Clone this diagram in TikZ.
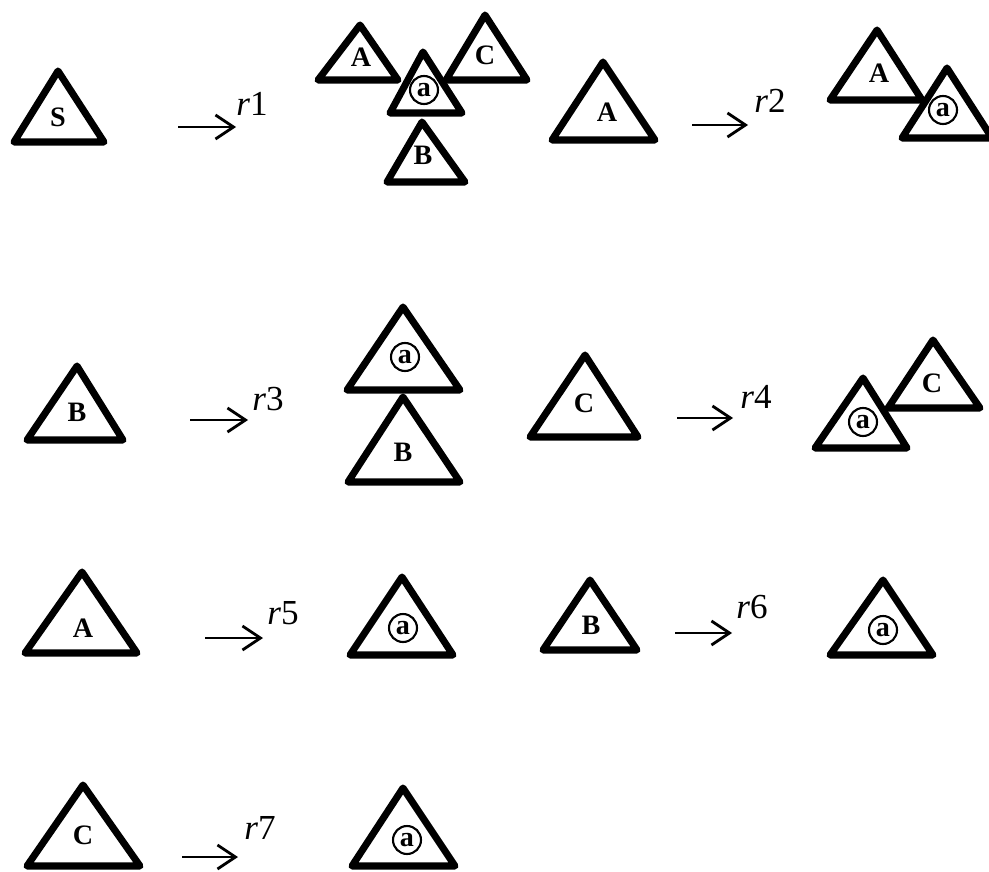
\documentclass[tikz,border=0pt]{standalone}
\usepackage{fontspec}
\setmainfont{Liberation Serif}
\usetikzlibrary{arrows.meta}

\tikzset{
  tri/.style={line width=4pt, line join=round},
  lbl/.style={font=\fontsize{16}{18}\selectfont\bfseries, inner sep=0pt},
  mol/.style={draw, circle, line width=1.2pt, minimum size=0.56cm, inner sep=0pt,
    font=\fontsize{16}{18}\selectfont\bfseries},
  rule/.style={line width=1.6pt, -{Straight Barb[length=3.6mm,width=4.8mm,line width=1.6pt]}},
  rname/.style={font=\fontsize{20}{22}\selectfont, inner sep=0pt}
}

\begin{document}
\begin{tikzpicture}[x=0.02cm, y=-0.02cm]
    \useasboundingbox (0,0) rectangle (989,871);

    % r1
    \draw[tri] (58,71) -- (14,142) -- (104,142) -- cycle;
    \node[lbl] (s1) at (58,117) {S};
    \coordinate (r1s) at (178,127);
    \coordinate (r1e) at (236,127);
    \draw[rule] (r1s) -- (r1e);
    \node[rname] (r1) at (252,104) {\itshape r\upshape 1};
    \draw[tri] (360,25) -- (318,80) -- (398,80) -- cycle;
    \node[lbl] (a1) at (361,57) {A};
    \draw[tri] (485,15) -- (446,80) -- (527,80) -- cycle;
    \node[lbl] (c1) at (485,55) {C};
    \draw[tri] (423,52) -- (390,113) -- (462,113) -- cycle;
    \node[mol] (m1) at (424,90) {a};
    \draw[tri] (422,122) -- (387,182) -- (465,182) -- cycle;
    \node[lbl] (b1) at (423,155) {B};

    % r2
    \draw[tri] (603,62) -- (552,140) -- (655,140) -- cycle;
    \node[lbl] (a2) at (607,112) {A};
    \coordinate (r2s) at (692,125);
    \coordinate (r2e) at (748,125);
    \draw[rule] (r2s) -- (r2e);
    \node[rname] (r2) at (770,101) {\itshape r\upshape 2};
    \draw[tri] (877,30) -- (830,100) -- (922,100) -- cycle;
    \node[lbl] (a3) at (879,73) {A};
    \draw[tri] (947,68) -- (902,138) -- (992,138) -- cycle;
    \node[mol] (m2) at (943,110) {a};

    % r3
    \draw[tri] (77,366) -- (27,440) -- (123,440) -- cycle;
    \node[lbl] (b2) at (77,412) {B};
    \coordinate (r3s) at (190,420);
    \coordinate (r3e) at (248,420);
    \draw[rule] (r3s) -- (r3e);
    \node[rname] (r3) at (268,399) {\itshape r\upshape 3};
    \draw[tri] (403,307) -- (347,390) -- (460,390) -- cycle;
    \node[mol] (m3) at (405,357) {a};
    \draw[tri] (403,397) -- (348,482) -- (460,482) -- cycle;
    \node[lbl] (b3) at (403,452) {B};

    % r4
    \draw[tri] (585,355) -- (530,437) -- (638,437) -- cycle;
    \node[lbl] (c2) at (584,403) {C};
    \coordinate (r4s) at (677,418);
    \coordinate (r4e) at (733,418);
    \draw[rule] (r4s) -- (r4e);
    \node[rname] (r4) at (756,397) {\itshape r\upshape 4};
    \draw[tri] (863,378) -- (815,448) -- (907,448) -- cycle;
    \node[mol] (m4) at (863,422) {a};
    \draw[tri] (933,340) -- (888,408) -- (980,408) -- cycle;
    \node[lbl] (c3) at (932,383) {C};

    % r5
    \draw[tri] (82,572) -- (25,653) -- (137,653) -- cycle;
    \node[lbl] (a4) at (83,628) {A};
    \coordinate (r5s) at (205,638);
    \coordinate (r5e) at (263,638);
    \draw[rule] (r5s) -- (r5e);
    \node[rname] (r5) at (283,613) {\itshape r\upshape 5};
    \draw[tri] (402,577) -- (350,655) -- (453,655) -- cycle;
    \node[mol] (m5) at (403,628) {a};

    % r6
    \draw[tri] (590,580) -- (543,650) -- (637,650) -- cycle;
    \node[lbl] (b4) at (591,625) {B};
    \coordinate (r6s) at (675,633);
    \coordinate (r6e) at (732,633);
    \draw[rule] (r6s) -- (r6e);
    \node[rname] (r6) at (752,607) {\itshape r\upshape 6};
    \draw[tri] (883,580) -- (830,655) -- (933,655) -- cycle;
    \node[mol] (m6) at (883,630) {a};

    % r7
    \draw[tri] (83,785) -- (27,866) -- (140,866) -- cycle;
    \node[lbl] (c4) at (83,835) {C};
    \coordinate (r7s) at (182,857);
    \coordinate (r7e) at (238,857);
    \draw[rule] (r7s) -- (r7e);
    \node[rname] (r7) at (260,828) {\itshape r\upshape 7};
    \draw[tri] (403,788) -- (352,866) -- (455,866) -- cycle;
    \node[mol] (m7) at (407,840) {a};
\end{tikzpicture}
\end{document}
